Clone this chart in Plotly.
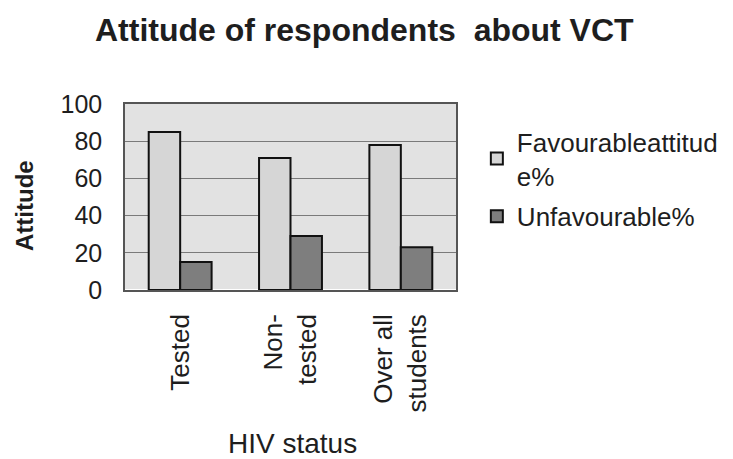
import plotly.graph_objects as go

categories = ["Tested", "Non-<br>tested", "Over all<br>students"]
favourable = [85, 71, 78]
unfavourable = [15, 29, 23]
series_names = ["Favourableattitud<br>e%", "Unfavourable%"]
y_ticks = [0, 20, 40, 60, 80, 100]

font = "Liberation Sans, Arial, sans-serif"
ink = "#1e1e1e"

L, R, T, B = 125, 277, 104, 169
W, H = 733, 459
plot_w = W - L - R
plot_h = H - T - B


def px_x(x):
    return (x - L) / plot_w


def px_y(y):
    return (H - B - y) / plot_h


fig = go.Figure()
fig.add_trace(go.Bar(x=categories, y=favourable, name=series_names[0], legendgroup="fav",
                     marker=dict(color="#d6d6d6", line=dict(color="#111111", width=2))))
fig.add_trace(go.Bar(x=categories, y=unfavourable, name=series_names[1], legendgroup="unfav",
                     marker=dict(color="#7e7e7e", line=dict(color="#111111", width=2))))

fig.update_layout(
    width=W, height=H,
    margin=dict(l=L, r=R, t=T, b=B, autoexpand=False),
    paper_bgcolor="white",
    plot_bgcolor="#e2e2e2",
    barmode="group",
    bargap=0.43,
    bargroupgap=0,
    font=dict(family=font, size=25, color=ink),
    title=dict(text="<b>Attitude of respondents  about VCT</b>", x=0.497, xref="container",
               y=1 - 30 / H, yref="container", xanchor="center", yanchor="middle",
               font=dict(size=32, color=ink)),
    legend=dict(x=1.063, y=0.923, xanchor="left", yanchor="top",
                font=dict(size=26, color=ink), tracegroupgap=4,
                bgcolor="rgba(0,0,0,0)"),
    xaxis=dict(tickangle=-90, showline=True, linecolor="#555555", linewidth=1.5, mirror=True,
               ticks="", automargin=False, ticklabelstandoff=12,
               tickfont=dict(size=26)),
    yaxis=dict(range=[0, 100], tickvals=y_ticks, showgrid=True, gridcolor="#7a7a7a",
               gridwidth=1, showline=True, linecolor="#555555", linewidth=1.5, mirror=True,
               ticks="", automargin=False, ticklabelstandoff=16, tickfont=dict(size=25)),
    annotations=[
        dict(text="<b>Attitude</b>", textangle=-90, x=px_x(24), y=px_y(206),
             xref="paper", yref="paper", xanchor="center", yanchor="middle",
             showarrow=False, font=dict(size=24, color=ink)),
        dict(text="HIV status", x=px_x(292), y=px_y(443), xref="paper", yref="paper",
             xanchor="center", yanchor="middle",
             showarrow=False, font=dict(size=28, color=ink)),
    ],
)

fig.write_html("out.html", config={"displayModeBar": False},
               post_script="document.body.style.margin='0';document.body.style.padding='0';")
